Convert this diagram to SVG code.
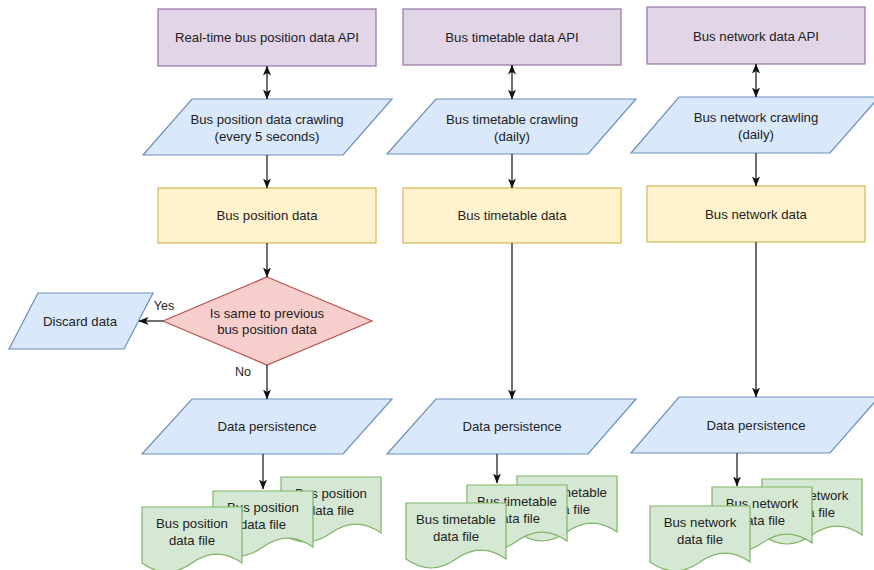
<svg xmlns="http://www.w3.org/2000/svg" width="874" height="570" viewBox="0 0 874 570">
<defs>
<style>
text{font-family:"Liberation Sans",Arial,Helvetica,sans-serif;font-size:13.2px;fill:#222;text-anchor:middle}
.api{fill:#e1d5e7;stroke:#9673a6;stroke-width:1.2}
.io{fill:#dae8fc;stroke:#6c8ebf;stroke-width:1.2}
.data{fill:#fff2cc;stroke:#d6b656;stroke-width:1.2}
.dec{fill:#f8cecc;stroke:#b85450;stroke-width:1.2}
.doc{fill:#d5e8d4;stroke:#82b366;stroke-width:1.2}
.edge{stroke:#111;stroke-width:1.2;fill:none}
.lbl{font-size:12.5px}
</style>
<marker id="arr" viewBox="0 0 10 8" refX="9.5" refY="4" markerWidth="10" markerHeight="8" markerUnits="userSpaceOnUse" orient="auto-start-reverse">
<path d="M0,0 L10,4 L0,8 L2.5,4 Z" fill="#111"/>
</marker>
<path id="docshape" d="M0,0 H100 V56.1 Q75,38.3 50,56.1 Q25,73.9 0,56.1 Z"/>
</defs>

<g id="api1"><rect class="api" x="158" y="9" width="218" height="57"/><text x="267" y="42">Real-time bus position data API</text></g>
<g id="api2"><rect class="api" x="403" y="9" width="218" height="56"/><text x="512" y="42">Bus timetable data API</text></g>
<g id="api3"><rect class="api" x="647" y="7" width="218" height="57"/><text x="756" y="41">Bus network data API</text></g>

<g id="crawl1"><polygon class="io" points="192,99 392,99 343,155 143,155"/><text x="267" y="124">Bus position data crawling</text><text x="267" y="141">(every 5 seconds)</text></g>
<g id="crawl2"><polygon class="io" points="436,99 636,99 588,154 387,154"/><text x="512" y="124">Bus timetable crawling</text><text x="512" y="141">(daily)</text></g>
<g id="crawl3"><polygon class="io" points="679,97 879,97 830,153 631,153"/><text x="756" y="122">Bus network crawling</text><text x="756" y="139">(daily)</text></g>

<g id="data1"><rect class="data" x="158" y="188" width="218" height="55"/><text x="267" y="220">Bus position data</text></g>
<g id="data2"><rect class="data" x="403" y="188" width="218" height="55"/><text x="512" y="220">Bus timetable data</text></g>
<g id="data3"><rect class="data" x="647" y="186" width="218" height="56"/><text x="756" y="219">Bus network data</text></g>

<g id="decision"><polygon class="dec" points="267,277 372,321 267,365 163,321"/><text x="267" y="318">Is same to previous</text><text x="267" y="334">bus position data</text></g>

<g id="discard"><polygon class="io" points="38,293 153,293 124,349 9,349"/><text x="80" y="326">Discard data</text></g>

<g id="persist1"><polygon class="io" points="192,399 392,399 343,454 142,454"/><text x="267" y="431">Data persistence</text></g>
<g id="persist2"><polygon class="io" points="436,399 636,399 588,454 387,454"/><text x="512" y="431">Data persistence</text></g>
<g id="persist3"><polygon class="io" points="679,397 879,397 830,453 631,453"/><text x="756" y="430">Data persistence</text></g>

<g id="edges">
<line class="edge" x1="267" y1="66" x2="267" y2="99" marker-start="url(#arr)" marker-end="url(#arr)"/>
<line class="edge" x1="512" y1="65" x2="512" y2="99" marker-start="url(#arr)" marker-end="url(#arr)"/>
<line class="edge" x1="756" y1="64" x2="756" y2="97" marker-start="url(#arr)" marker-end="url(#arr)"/>
<line class="edge" x1="267" y1="155" x2="267" y2="188" marker-end="url(#arr)"/>
<line class="edge" x1="512" y1="154" x2="512" y2="188" marker-end="url(#arr)"/>
<line class="edge" x1="756" y1="153" x2="756" y2="186" marker-end="url(#arr)"/>
<line class="edge" x1="267" y1="243" x2="267" y2="277" marker-end="url(#arr)"/>
<line class="edge" x1="163" y1="321" x2="139" y2="321" marker-end="url(#arr)"/>
<line class="edge" x1="267" y1="365" x2="267" y2="399" marker-end="url(#arr)"/>
<line class="edge" x1="512" y1="243" x2="512" y2="399" marker-end="url(#arr)"/>
<line class="edge" x1="756" y1="242" x2="756" y2="397" marker-end="url(#arr)"/>
<line class="edge" x1="263" y1="454" x2="263" y2="489" marker-end="url(#arr)"/>
<line class="edge" x1="497" y1="454" x2="497" y2="483" marker-end="url(#arr)"/>
<line class="edge" x1="737" y1="453" x2="737" y2="486" marker-end="url(#arr)"/>
<text class="lbl" x="164" y="310">Yes</text>
<text class="lbl" x="243" y="376">No</text>
</g>

<g id="file1c" transform="translate(281,477)"><use href="#docshape" class="doc"/><text x="50" y="21">Bus position</text><text x="50" y="38">data file</text></g>
<g id="file1b" transform="translate(213,491)"><use href="#docshape" class="doc"/><text x="50" y="21">Bus position</text><text x="50" y="38">data file</text></g>
<g id="file1a" transform="translate(142,507)"><use href="#docshape" class="doc"/><text x="50" y="21">Bus position</text><text x="50" y="38">data file</text></g>

<g id="file2c" transform="translate(517,476)"><use href="#docshape" class="doc"/><text x="50" y="21">Bus timetable</text><text x="50" y="38">data file</text></g>
<g id="file2b" transform="translate(467,485)"><use href="#docshape" class="doc"/><text x="50" y="21">Bus timetable</text><text x="50" y="38">data file</text></g>
<g id="file2a" transform="translate(406,503)"><use href="#docshape" class="doc"/><text x="50" y="21">Bus timetable</text><text x="50" y="38">data file</text></g>

<g id="file3c" transform="translate(762,479)"><use href="#docshape" class="doc"/><text x="50" y="21">Bus network</text><text x="50" y="38">data file</text></g>
<g id="file3b" transform="translate(712,487)"><use href="#docshape" class="doc"/><text x="50" y="21">Bus network</text><text x="50" y="38">data file</text></g>
<g id="file3a" transform="translate(650,506)"><use href="#docshape" class="doc"/><text x="50" y="21">Bus network</text><text x="50" y="38">data file</text></g>
</svg>
